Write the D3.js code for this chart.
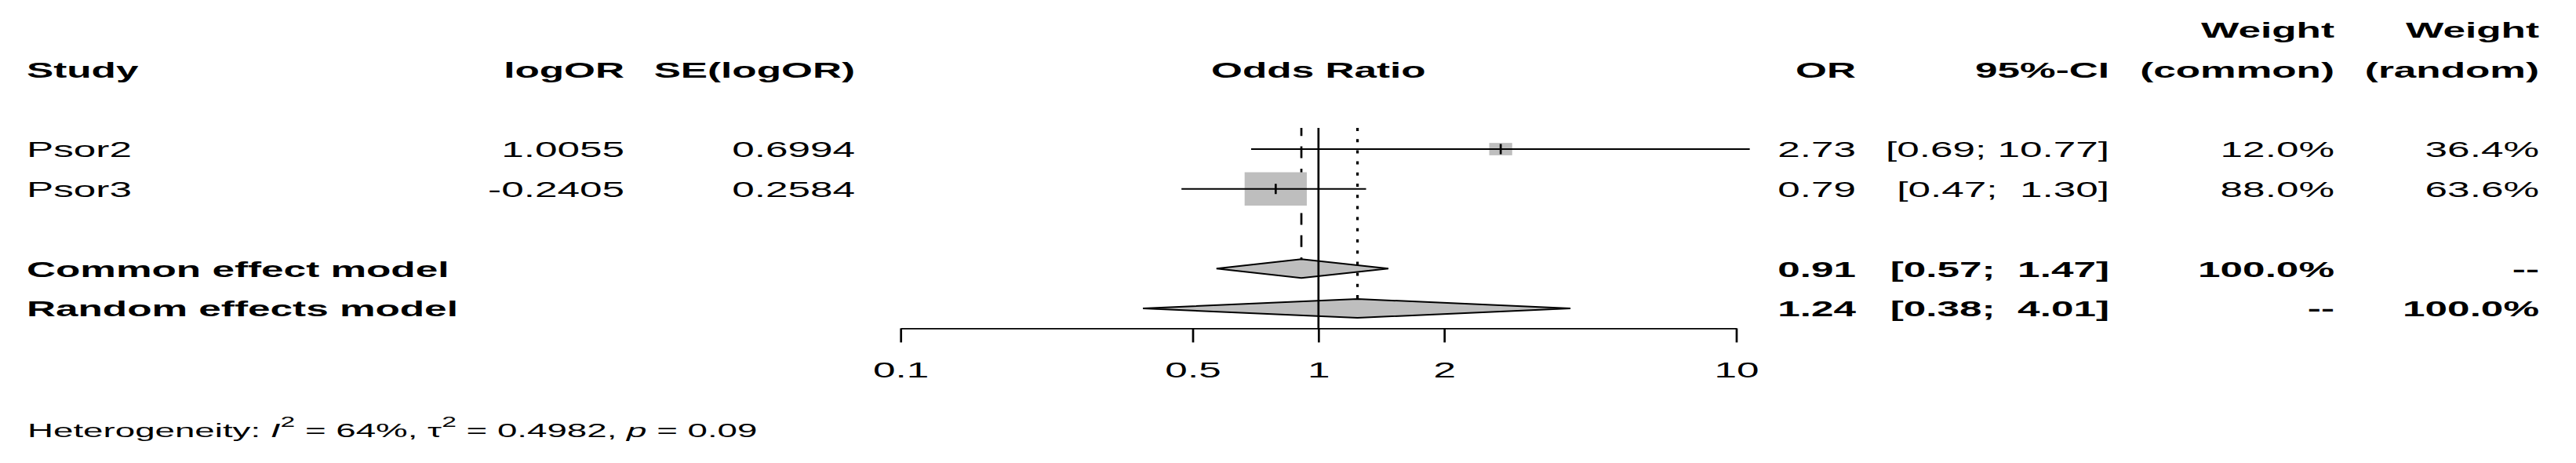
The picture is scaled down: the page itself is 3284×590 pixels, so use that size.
<!DOCTYPE html>
<html><head><meta charset="utf-8">
<script src="https://cdn.jsdelivr.net/npm/d3@7"></script>
<style>
html,body{margin:0;padding:0;background:#fff;}
svg{display:block;background:#fff;}
text{font-family:"Liberation Sans",Arial,Helvetica,sans-serif;white-space:pre;fill:#000;}
</style>
</head><body>
<svg id="chart" width="3284" height="590"></svg>
<script>
// ---------------- data ----------------
const studies = ["Psor2", "Psor3"];
const logOR = [1.0055, -0.2405];
const seLogOR = [0.6994, 0.2584];
const studyOR = [2.73, 0.79];
const studyLower = [0.69, 0.47];
const studyUpper = [10.77, 1.30];
const weightCommon = [12.0, 88.0];
const weightRandom = [36.4, 63.6];

const models = ["Common effect model", "Random effects model"];
const modelOR = [0.91, 1.24];
const modelLower = [0.57, 0.38];
const modelUpper = [1.47, 4.01];
const modelWeightCommon = ["100.0%", "--"];
const modelWeightRandom = ["--", "100.0%"];

const axisTicks = [0.1, 0.5, 1, 2, 10];
const hetI2 = 64, hetTau2 = 0.4982, hetP = 0.09;

// ---------------- layout ----------------
const W = 3284, H = 590;
const SX = 1.865;          // horizontal stretch of the original picture
const FS = 27.5;           // font size
const FS_HET = 24.5;
const svg = d3.select("#chart");

const x = d3.scaleLog().domain([0.1, 10]).range([1148.2, 2213.5]);
const yRow = d3.scaleLinear().domain([0, 1]).range([190, 240.75]);
const BASE = 10.3;

const col = {study: 34, logOR: 796, se: 1090, or: 2366, ci: 2689, wc: 2976, wr: 3237};

function txt(str, tx, ty, anchor, bold, size) {
  return svg.append("text")
    .attr("transform", `translate(${tx},${ty}) scale(${SX},1)`)
    .attr("text-anchor", anchor || "start")
    .attr("font-size", size || FS)
    .attr("font-weight", bold ? "bold" : "normal")
    .text(str);
}
const f2 = v => v.toFixed(2);
const ciStr = (lo, hi) => `[${f2(lo)}; ${f2(hi).padStart(5, " ")}]`;

// ---------------- header ----------------
const hY = yRow(-2) + BASE, h1Y = yRow(-3) + BASE;
txt("Study", col.study, hY, "start", true);
txt("logOR", col.logOR, hY, "end", true);
txt("SE(logOR)", col.se, hY, "end", true);
txt("Odds Ratio", (x(0.1) + x(10)) / 2, hY, "middle", true);
txt("OR", col.or, hY, "end", true);
txt("95%-CI", col.ci, hY, "end", true);
txt("Weight", col.wc, h1Y, "end", true);
txt("(common)", col.wc, hY, "end", true);
txt("Weight", col.wr, h1Y, "end", true);
txt("(random)", col.wr, hY, "end", true);

// ---------------- study rows text ----------------
studies.forEach((s, i) => {
  const ty = yRow(i) + BASE;
  txt(s, col.study, ty, "start");
  txt(logOR[i].toFixed(4), col.logOR, ty, "end");
  txt(seLogOR[i].toFixed(4), col.se, ty, "end");
  txt(f2(studyOR[i]), col.or, ty, "end");
  txt(ciStr(studyLower[i], studyUpper[i]), col.ci, ty, "end");
  txt(weightCommon[i].toFixed(1) + "%", col.wc, ty, "end");
  txt(weightRandom[i].toFixed(1) + "%", col.wr, ty, "end");
});

// ---------------- model rows text ----------------
models.forEach((m, j) => {
  const ty = yRow(3 + j) + BASE;
  txt(m, col.study, ty, "start", true);
  txt(f2(modelOR[j]), col.or, ty, "end", true);
  txt(ciStr(modelLower[j], modelUpper[j]), col.ci, ty, "end", true);
  txt(modelWeightCommon[j], col.wc, ty, "end", true);
  txt(modelWeightRandom[j], col.wr, ty, "end", true);
});

// ---------------- plot ----------------
const VW = 2.7, HW = 1.8;
const topY = yRow(0) - 27;
const axisY = yRow(4.5);
const dHalf = 12;

// common-effect dashed line (under squares)
svg.append("line")
  .attr("x1", x(modelOR[0])).attr("x2", x(modelOR[0]))
  .attr("y1", topY).attr("y2", yRow(3) - dHalf)
  .attr("stroke", "#000").attr("stroke-width", VW)
  .attr("stroke-dasharray", "15,13.3").attr("stroke-dashoffset", 4.7);

// squares
const wMax = d3.max(weightCommon);
const SQ = 42.5;
svg.selectAll("rect.sq").data(studies).join("rect").attr("class", "sq")
  .each(function(d, i) {
    const h = SQ * Math.sqrt(weightCommon[i] / wMax);
    const w = h * SX;
    d3.select(this)
      .attr("x", x(studyOR[i]) - w / 2).attr("y", yRow(i) - h / 2)
      .attr("width", w).attr("height", h);
  })
  .attr("fill", "#bebebe");

// CI lines
svg.selectAll("line.ci").data(studies).join("line").attr("class", "ci")
  .attr("x1", (d, i) => x(studyLower[i])).attr("x2", (d, i) => x(studyUpper[i]))
  .attr("y1", (d, i) => yRow(i)).attr("y2", (d, i) => yRow(i))
  .attr("stroke", "#000").attr("stroke-width", HW);

// estimate ticks
svg.selectAll("line.est").data(studies).join("line").attr("class", "est")
  .attr("x1", (d, i) => x(studyOR[i])).attr("x2", (d, i) => x(studyOR[i]))
  .attr("y1", (d, i) => yRow(i) - 6.5).attr("y2", (d, i) => yRow(i) + 6.5)
  .attr("stroke", "#000").attr("stroke-width", VW);

// diamonds
svg.selectAll("path.dia").data(models).join("path").attr("class", "dia")
  .attr("d", (d, j) => {
    const cy = yRow(3 + j);
    return `M${x(modelLower[j])},${cy}L${x(modelOR[j])},${cy - dHalf}L${x(modelUpper[j])},${cy}L${x(modelOR[j])},${cy + dHalf}Z`;
  })
  .attr("fill", "#bebebe").attr("stroke", "#000").attr("stroke-width", 2).attr("stroke-linejoin", "miter");

// random-effects dotted line
svg.append("line")
  .attr("x1", x(modelOR[1])).attr("x2", x(modelOR[1]))
  .attr("y1", topY).attr("y2", yRow(4) - dHalf)
  .attr("stroke", "#000").attr("stroke-width", 3.2)
  .attr("stroke-dasharray", "4,10.2");

// line of no effect
svg.append("line")
  .attr("x1", x(1)).attr("x2", x(1))
  .attr("y1", topY).attr("y2", axisY)
  .attr("stroke", "#000").attr("stroke-width", VW);

// axis
const ax = svg.append("g")
  .attr("transform", `translate(0,${axisY})`)
  .call(d3.axisBottom(x).tickValues(axisTicks).tickFormat(d => String(d)).tickSize(18).tickSizeOuter(0));
ax.attr("font-size", null).attr("font-family", null);
ax.select(".domain").attr("stroke", "#000").attr("stroke-width", HW);
ax.selectAll(".tick line").attr("stroke", "#000").attr("stroke-width", VW);
ax.selectAll(".tick text")
  .attr("y", 62.5).attr("dy", null)
  .attr("transform", `scale(${SX},1)`)
  .attr("font-size", FS).attr("fill", "#000");

// heterogeneity
const het = svg.append("text")
  .attr("transform", `translate(35,556.7) scale(${SX},1)`)
  .attr("font-size", FS_HET);
het.append("tspan").text("Heterogeneity: ");
het.append("tspan").attr("font-style", "italic").text("I");
het.append("tspan").attr("font-size", 18).attr("dy", -13).text("2");
het.append("tspan").attr("dy", 13).text(` = ${hetI2}%, \u03c4`);
het.append("tspan").attr("font-size", 18).attr("dy", -13).text("2");
het.append("tspan").attr("dy", 13).text(` = ${hetTau2.toFixed(4)}, `);
het.append("tspan").attr("font-style", "italic").text("p");
het.append("tspan").text(` = ${hetP.toFixed(2)}`);
</script>
</body></html>
